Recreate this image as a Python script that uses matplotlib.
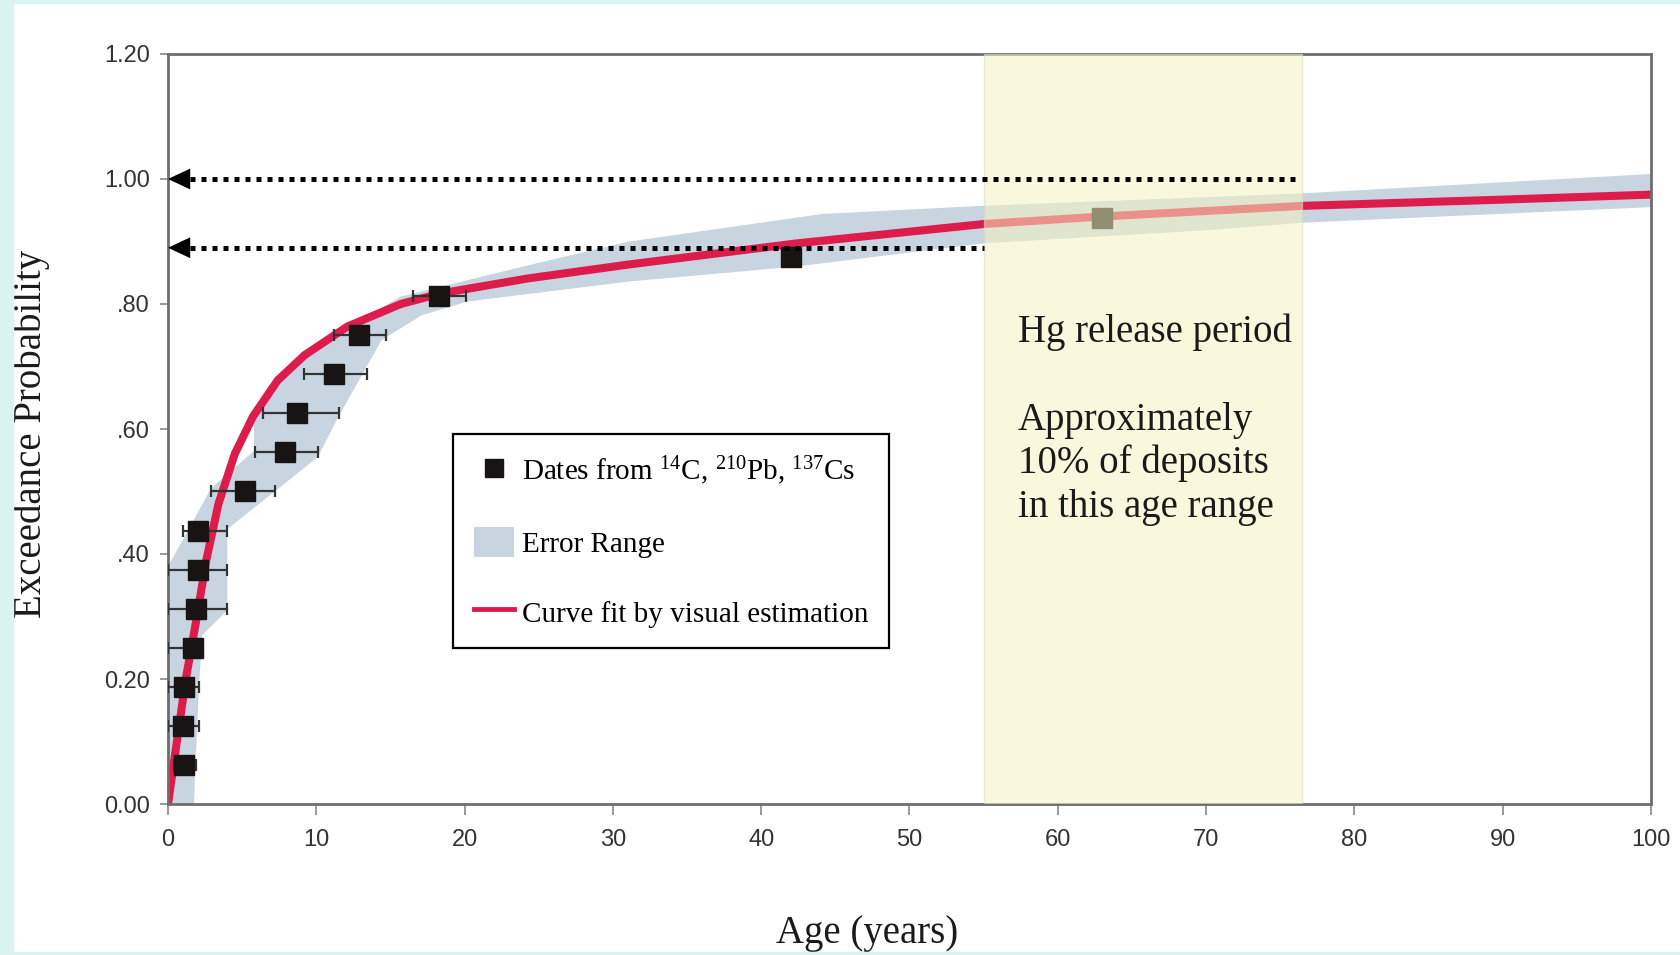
import matplotlib
matplotlib.use("Agg")
import matplotlib.pyplot as plt
from matplotlib.patches import Rectangle, Patch
from matplotlib.lines import Line2D

plt.rcParams["mathtext.fontset"] = "custom"
plt.rcParams["mathtext.rm"] = "Liberation Serif"
plt.rcParams["mathtext.it"] = "Liberation Serif:italic"

# dated deposits (age in years, exceedance probability)
ages = [1.1, 1.0, 1.1, 1.7, 1.9, 2.0, 2.0, 5.2, 7.9, 8.7, 11.2, 12.9, 18.3, 42.0, 63.0]
probs = [0.0625, 0.125, 0.1875, 0.25, 0.3125, 0.375, 0.4375, 0.5, 0.5625,
         0.625, 0.6875, 0.75, 0.8125, 0.875, 0.9375]
# horizontal error bar extents (only the first 13 points have them)
err_lo = [0.4, 0.0, 0.0, 0.0, 0.0, 0.0, 1.0, 2.9, 5.9, 6.4, 9.2, 11.2, 16.5]
err_hi = [1.9, 2.1, 2.1, 2.3, 4.0, 4.0, 4.0, 7.2, 10.1, 11.5, 13.4, 14.7, 20.1]

# curve fit by visual estimation
fit_age = [0, 0.6, 1.2, 1.95, 2.58, 3.4, 4.5, 5.73, 7.4, 9.2, 12.1, 15.7, 18.4, 24.3,
           31, 42.4, 55, 63, 76.5, 90, 100]
fit_prob = [0, 0.10, 0.20, 0.30, 0.39, 0.48, 0.56, 0.62, 0.678, 0.718, 0.764, 0.80, 0.817,
            0.841, 0.863, 0.897, 0.928, 0.94, 0.957, 0.967, 0.975]

# error range envelope
band_up_x = [0, 0, 1.4, 2.9, 5.8, 5.8, 7.4, 9.2, 12.1, 15.7, 24.3, 31.1, 44.1, 54.8, 76.5, 100]
band_up_y = [0, 0.38, 0.44, 0.505, 0.565, 0.625, 0.675, 0.715, 0.762, 0.812, 0.862, 0.90,
             0.944, 0.957, 0.977, 1.008]
band_lo_x = [1.75, 1.85, 2.1, 2.3, 4.0, 4.0, 7.2, 10.1, 11.5, 14.4, 17.1, 20.2, 31.1, 42.4,
             55, 70, 76.5, 100]
band_lo_y = [0, 0.06, 0.19, 0.27, 0.31, 0.44, 0.50, 0.555, 0.62, 0.742, 0.782, 0.804, 0.836,
             0.86, 0.897, 0.918, 0.93, 0.955]

hg_start, hg_end = 55, 76.5
arrow_levels = [1.00, 0.89]
arrow_ends = [76.2, 55.0]

yticks = [0, 0.2, 0.4, 0.6, 0.8, 1.0, 1.2]
ytick_labels = ["0.00", "0.20", ".40", ".60", ".80", "1.00", "1.20"]
xticks = list(range(0, 101, 10))

serif = "Liberation Serif"
sans = "Liberation Sans"
band_color = "#c8d5e0"
red = "#dd1c4b"

fig = plt.figure(figsize=(16.81, 9.55), dpi=100)
fig.patch.set_facecolor("white")
cyan = "#daf4f1"
fig.patches.append(Rectangle((0, 0), 13 / 1681, 1, transform=fig.transFigure, color=cyan, zorder=0))
fig.patches.append(Rectangle((0, 1 - 3 / 955), 1, 3 / 955, transform=fig.transFigure, color=cyan, zorder=0))
fig.patches.append(Rectangle((0, 0), 1, 3 / 955, transform=fig.transFigure, color=cyan, zorder=0))

ax = fig.add_axes([168 / 1681, 151 / 955, 1483 / 1681, 750 / 955])

# error range
poly_x = band_up_x + band_lo_x[::-1]
poly_y = band_up_y + band_lo_y[::-1]
ax.fill(poly_x, poly_y, color=band_color, lw=0, zorder=1)

ax.plot(fit_age, fit_prob, color=red, lw=5.8, solid_capstyle="butt", solid_joinstyle="round", zorder=2)

n_err = len(err_lo)
xerr = [[a - lo for a, lo in zip(ages[:n_err], err_lo)],
        [hi - a for a, hi in zip(ages[:n_err], err_hi)]]
ax.errorbar(ages[:n_err], probs[:n_err], xerr=xerr, fmt="none", ecolor="#333333",
            elinewidth=1.6, capsize=4, capthick=1.6, zorder=3)
ax.plot(ages, probs, "s", color="#181414", ms=15, zorder=4)

# Hg release period overlay
ax.axvspan(hg_start, hg_end, facecolor="#f5f3c0", alpha=0.55, edgecolor="#d8d8c8", lw=1, zorder=5)

# dotted arrows to the y axis
for lev, xend in zip(arrow_levels, arrow_ends):
    ax.plot([1.5, xend], [lev, lev], color="black", lw=3.6, linestyle=(0, (1, 1.2)),
            dash_capstyle="butt", zorder=6)
    ax.annotate("", xy=(0, lev), xytext=(1.55, lev),
                arrowprops=dict(arrowstyle="-|>,head_length=1.6,head_width=0.75",
                                mutation_scale=10, color="black", lw=0,
                                shrinkA=0, shrinkB=0), zorder=6)

ax.text(57.3, 0.739, "Hg release period", fontsize=28, family=serif, color="#1a1a1a", va="baseline", zorder=7)
for txt, yb in zip(["Approximately", "10% of deposits", "in this age range"], [0.599, 0.529, 0.460]):
    ax.text(57.3, yb, txt, fontsize=28, family=serif, color="#1a1a1a", va="baseline", zorder=7)

ax.set_xlim(0, 100)
ax.set_ylim(0, 1.2)
ax.set_xticks(xticks)
ax.set_xticklabels([str(t) for t in xticks])
ax.set_yticks(yticks)
ax.set_yticklabels(ytick_labels)
ax.tick_params(axis="both", direction="out", color="#888888", width=1.2, labelcolor="#333333",
               labelsize=17)
ax.tick_params(axis="x", length=8, pad=10)
ax.tick_params(axis="y", length=6, pad=7)
for lab in ax.get_xticklabels() + ax.get_yticklabels():
    lab.set_family(sans)
for sp in ax.spines.values():
    sp.set_color("#6e6e6e")
    sp.set_linewidth(2)

ax.set_xlabel("Age (years)", fontsize=28, family=serif, color="#1a1a1a", va="center")
ax.xaxis.set_label_coords(0.4715, -0.172)
ax.set_ylabel("Exceedance Probability", fontsize=28, family=serif, color="#1a1a1a",
              va="center", ha="center")
ax.yaxis.set_label_coords(-0.092, 0.493)

h_pts = Line2D([], [], marker="s", color="#181414", ls="none", ms=13)
h_band = Patch(facecolor=band_color, edgecolor="none")
h_fit = Line2D([], [], color=red, lw=3.5)
leg = ax.legend([h_pts, h_band, h_fit],
                [r"Dates from $^{14}$C, $^{210}$Pb, $^{137}$Cs", "Error Range", "Curve fit by visual estimation"],
                loc="upper left", bbox_to_anchor=(0.1925, 0.493), borderaxespad=0,
                prop={"family": serif, "size": 21}, fancybox=False, shadow=False,
                framealpha=1, edgecolor="black", handlelength=1.36, handleheight=1.2,
                handletextpad=0.3, labelspacing=1.35, borderpad=0.7, numpoints=1)
leg.get_frame().set_linewidth(1.6)
leg.set_zorder(8)

fig.savefig("out.png", dpi=100, facecolor=fig.get_facecolor())
